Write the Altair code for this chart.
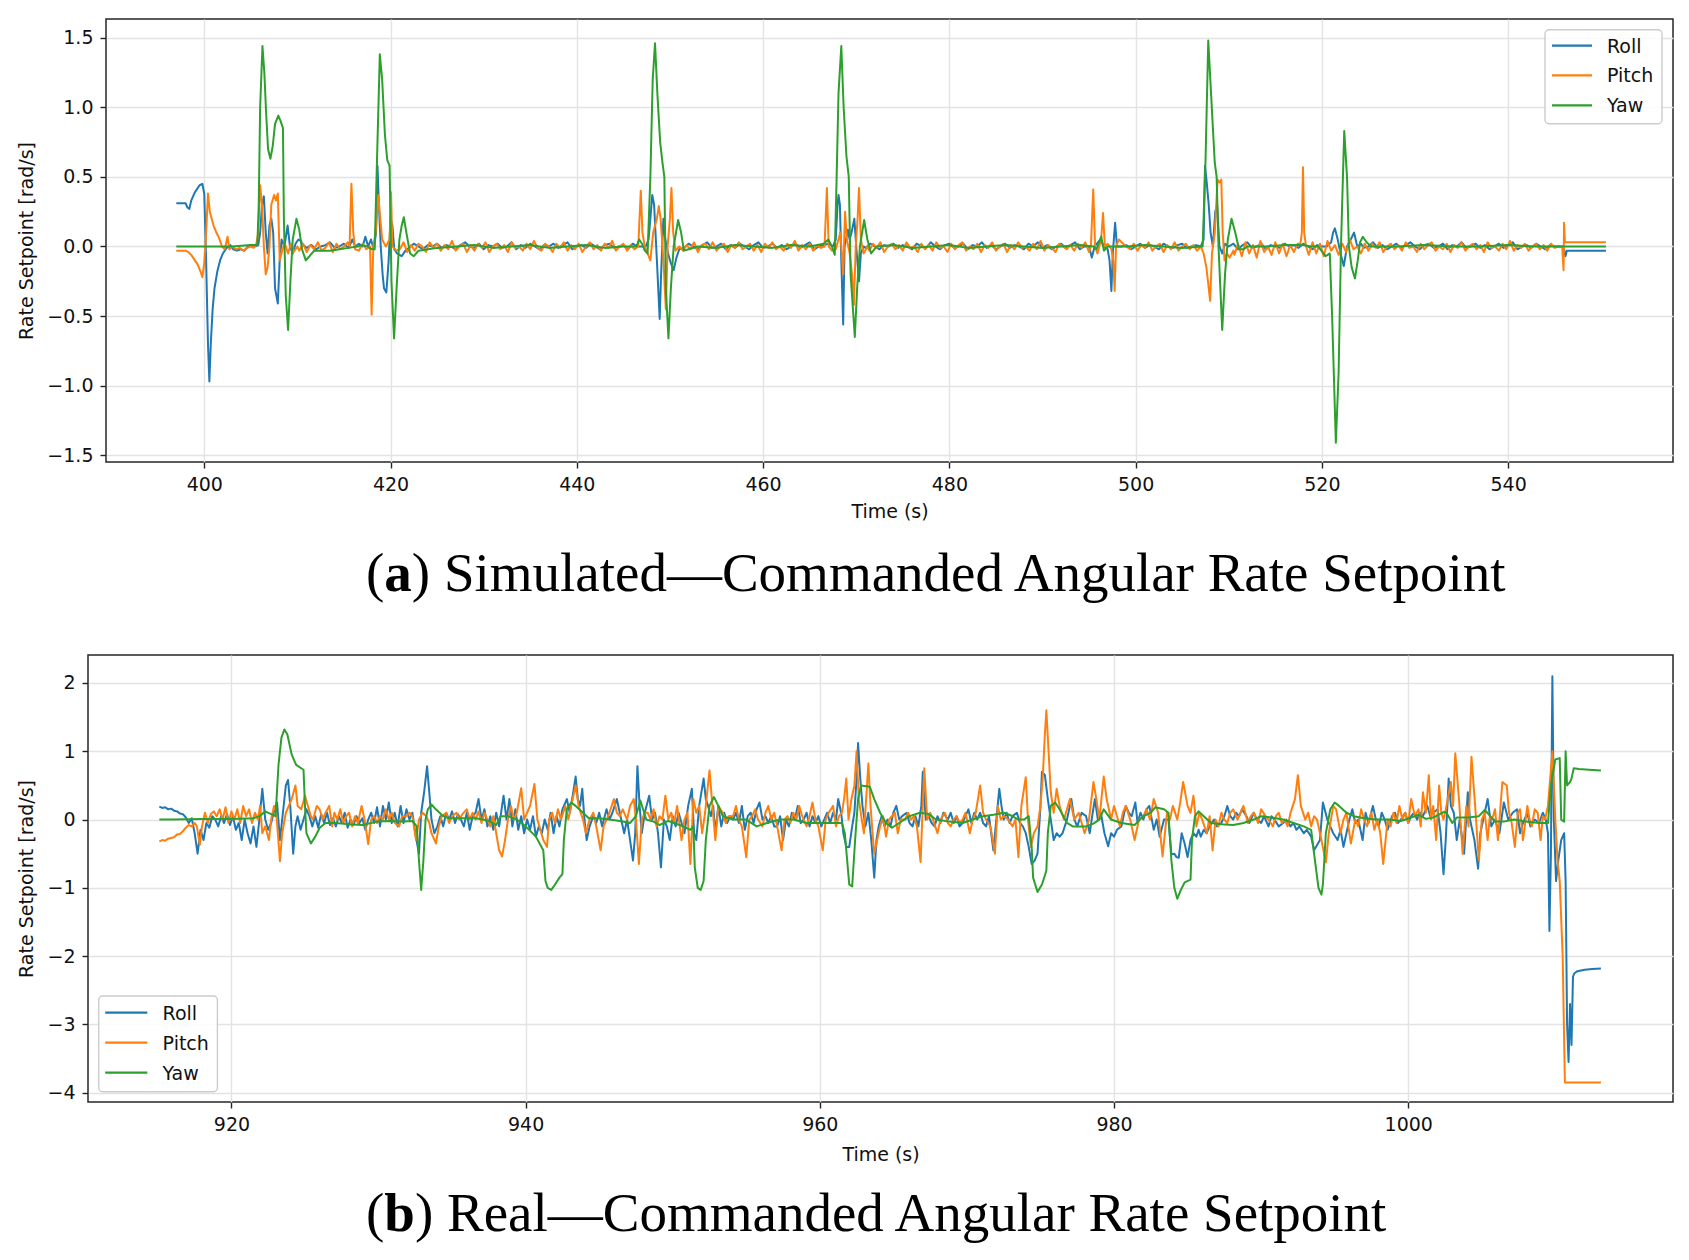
import altair as alt
import pandas as pd

SERIES = ["Roll", "Pitch", "Yaw"]
COLORS = ["#1f77b4", "#ff7f0e", "#2ca02c"]

X_TICKS_A = [400, 420, 440, 460, 480, 500, 520, 540]
Y_TICKS_A = [-1.5, -1.0, -0.5, 0.0, 0.5, 1.0, 1.5]
X_TICKS_B = [920, 940, 960, 980, 1000]
Y_TICKS_B = [-4, -3, -2, -1, 0, 1, 2]

CAPTION_A = ("a", ") Simulated\u2014Commanded Angular Rate Setpoint")
CAPTION_B = ("b", ") Real\u2014Commanded Angular Rate Setpoint")

# ---------------- Panel (a): simulated ----------------
ROLL_A_T0, ROLL_A_DT = 397.0, 0.5
roll_a_base = [
    0.0, 0.0, 0.0, 0.0, 0.0, 0.0, 0.0, 0.0, 0.0, 0.0, 0.0, 0.0, 0.0, 0.0, 0.0, 0.0, 0.0, 0.0, 0.0, 0.0,
    0.0, 0.0, 0.0, 0.0, 0.0, 0.0, 0.0, 0.02, -0.01, 0.01, -0.02, 0.0, 0.01, 0.03, -0.01, 0.0, 0.02, -0.01, 0.01, -0.02,
    0.0, 0.0, 0.0, 0.0, 0.0, 0.0, 0.0, 0.0, 0.0, 0.0, -0.01, 0.02, 0.0, -0.02, 0.01, 0.0, 0.02, -0.01, 0.01, 0.0,
    -0.02, 0.01, 0.03, 0.0, -0.01, 0.02, -0.02, 0.01, 0.0, 0.02, -0.01, 0.0, 0.03, -0.02, 0.01, -0.01, 0.02, 0.0, -0.02, 0.01,
    0.0, 0.02, -0.01, 0.01, 0.03, -0.02, 0.0, 0.01, -0.01, 0.02, 0.0, -0.02, 0.01, 0.02, -0.01, 0.0, 0.01, -0.02, 0.02, 0.0,
    0.0, 0.0, 0.0, 0.0, 0.0, 0.0, 0.0, 0.0, 0.01, -0.01, 0.02, 0.0, -0.02, 0.01, 0.03, -0.01, 0.0, 0.02, -0.02, 0.01,
    -0.01, 0.02, 0.0, -0.02, 0.01, 0.03, -0.01, 0.0, 0.02, -0.01, 0.01, -0.02, 0.0, 0.02, -0.01, 0.01, 0.03, -0.02, 0.0, 0.01,
    0.02, 0.0, 0.0, 0.0, 0.0, 0.0, 0.0, 0.0, -0.01, 0.02, 0.0, -0.02, 0.01, 0.0, 0.02, -0.01, 0.01, 0.0, -0.02, 0.02,
    0.0, -0.01, 0.03, 0.0, -0.02, 0.01, 0.02, -0.01, 0.0, 0.02, -0.02, 0.01, 0.0, 0.03, -0.01, 0.01, -0.02, 0.0, 0.02, -0.01,
    0.01, 0.0, -0.02, 0.02, 0.0, 0.03, -0.01, 0.01, -0.02, 0.0, 0.02, -0.01, 0.01, 0.03, -0.02, 0.0, 0.0, 0.0, 0.0, 0.0,
    0.0, 0.0, 0.0, 0.0, 0.01, -0.02, 0.0, 0.02, -0.01, 0.01, 0.0, -0.02, 0.02, 0.0, -0.01, 0.01, 0.02, -0.01, 0.0, 0.01,
    0.0, 0.0, 0.0, 0.0, 0.0, 0.0, 0.0, 0.02, -0.02, 0.01, 0.03, -0.01, 0.0, 0.02, -0.02, 0.01, 0.0, -0.01, 0.02, 0.0,
    0.01, -0.01, 0.02, 0.0, -0.02, 0.01, 0.0, 0.0, 0.0, 0.0, 0.0, 0.0, 0.0, 0.0, 0.02, -0.01, 0.0, 0.03, -0.01, 0.01,
    -0.02, 0.0, 0.02, -0.01, 0.01, 0.03, 0.0, -0.02, 0.01, 0.02, -0.01, 0.0, 0.02, -0.02, 0.01, 0.0, 0.03, -0.01, 0.0, 0.02,
    -0.01, 0.01, -0.02, 0.0, 0.02, -0.01, 0.01, 0.03, -0.02, 0.0, 0.01, -0.01, 0.02, 0.0, -0.02, 0.01, 0.0, 0.0, 0.0, 0.0,
]
roll_a_events = [
    [[397.0, 0.31], [397.5, 0.31], [398.0, 0.31], [398.2, 0.28], [398.4, 0.27], [398.6, 0.33], [398.8, 0.36],
     [399.0, 0.39], [399.2, 0.41], [399.5, 0.44], [399.8, 0.45], [400.0, 0.38], [400.2, -0.1], [400.4, -0.7],
     [400.55, -0.97], [400.7, -0.7], [400.9, -0.45], [401.1, -0.3], [401.4, -0.18], [401.7, -0.1], [402.0, -0.05],
     [402.4, -0.01], [402.8, 0.01], [403.1, -0.02], [403.5, -0.03], [403.9, -0.02], [404.3, -0.03], [404.7, 0.0],
     [405.0, 0.01], [405.4, 0.0], [405.8, 0.01]],
    [[406.0, 0.1], [406.2, 0.3], [406.4, 0.36], [406.6, 0.1], [406.8, -0.05], [407.0, 0.15], [407.2, 0.2],
     [407.4, 0.1], [407.6, -0.3], [407.9, -0.41], [408.1, -0.1], [408.3, 0.05], [408.6, 0.0], [408.95, 0.15],
     [409.2, 0.0], [409.5, -0.05], [409.8, 0.02], [410.1, 0.05], [410.4, 0.04]],
    [[415.9, 0.05], [416.2, 0.0], [416.6, 0.02], [417.0, 0.0], [417.3, 0.07], [417.6, 0.0], [417.9, 0.05],
     [418.2, -0.02], [418.45, 0.1], [418.6, 0.58], [418.75, 0.3], [418.95, 0.0], [419.15, -0.2], [419.3, -0.3],
     [419.55, -0.33], [419.8, -0.1], [420.0, 0.2], [420.2, 0.15], [420.4, -0.02], [420.7, -0.05], [421.2, -0.07],
     [421.6, -0.03]],
    [[447.4, 0.0], [447.7, 0.05], [447.9, 0.2], [448.1, 0.37], [448.3, 0.3], [448.6, -0.1], [448.9, -0.52],
     [449.05, -0.2], [449.3, 0.2], [449.5, 0.05], [449.8, -0.05], [450.1, -0.12], [450.4, -0.17], [450.7, -0.08],
     [451.0, -0.02]],
    [[467.8, 0.05], [468.0, 0.3], [468.1, 0.37], [468.25, 0.3], [468.4, -0.1], [468.6, -0.56], [468.75, 0.0],
     [468.9, 0.05], [469.1, 0.12], [469.3, 0.05], [469.5, 0.1], [469.8, 0.2], [470.0, 0.0], [470.3, -0.25],
     [470.5, -0.05], [470.8, 0.0]],
    [[495.0, 0.0], [495.3, -0.08], [495.6, 0.0], [496.2, 0.05], [496.6, 0.0], [497.0, -0.02], [497.2, -0.1],
     [497.4, -0.32], [497.55, -0.05], [497.8, 0.17], [498.0, 0.0]],
    [[507.0, 0.0], [507.3, 0.05], [507.45, 0.58], [507.65, 0.45], [507.85, 0.3], [508.05, 0.1], [508.3, 0.0],
     [508.55, 0.25], [508.75, 0.3], [509.0, 0.0], [509.3, -0.05], [509.6, 0.02], [510.0, 0.0]],
    [[520.5, 0.0], [521.0, 0.03], [521.2, 0.1], [521.4, 0.13], [521.7, 0.05], [522.0, -0.05], [522.35, -0.14],
     [522.7, 0.0], [523.1, 0.05], [523.45, 0.1], [523.8, 0.0], [524.2, 0.02]],
    [[545.8, 0.0], [546.0, -0.02], [546.15, -0.07], [546.3, -0.03], [547.0, -0.03], [548.5, -0.03], [550.5, -0.03]],
]

PITCH_A_T0, PITCH_A_DT = 397.0, 0.4
pitch_a_base = [
    0.0, 0.0, 0.0, 0.0, 0.0, 0.0, 0.0, 0.0, 0.0, 0.0, 0.0, 0.0, 0.0, 0.0, 0.0, 0.0, 0.0, 0.0, 0.0, 0.0,
    0.0, 0.0, 0.0, 0.0, 0.0, 0.0, 0.0, 0.0, 0.0, 0.0, 0.0, 0.0, 0.0, -0.03, 0.02, -0.04, 0.01, -0.02, 0.03, -0.03,
    -0.01, 0.03, -0.04, 0.02, -0.02, 0.0, 0.03, 0.0, 0.0, -0.03, 0.02, -0.02, 0.0, 0.0, 0.0, 0.0, 0.0, 0.0, 0.0, -0.03,
    -0.02, 0.03, -0.04, 0.01, -0.03, 0.02, 0.0, -0.04, 0.03, -0.01, 0.02, -0.03, 0.01, -0.02, 0.04, -0.03, 0.0, 0.02, -0.04, 0.01,
    -0.03, 0.02, -0.01, 0.03, -0.04, 0.0, 0.02, -0.02, 0.01, -0.04, 0.03, -0.01, 0.0, -0.03, 0.02, -0.02, 0.04, -0.01, -0.03, 0.02,
    0.0, -0.04, 0.02, -0.01, 0.03, -0.03, 0.01, -0.02, 0.02, -0.04, 0.0, 0.03, -0.02, 0.01, -0.03, 0.02, -0.01, 0.04, -0.03, 0.0,
    0.02, -0.03, 0.01, -0.02, 0.0, 0.0, 0.0, 0.0, 0.0, 0.0, 0.0, 0.0, 0.0, 0.0, 0.0, 0.02, -0.03, 0.01, -0.02, 0.03,
    -0.04, 0.01, 0.02, -0.02, 0.03, -0.03, 0.0, 0.02, -0.04, 0.01, -0.01, 0.03, -0.02, 0.0, 0.02, -0.03, 0.01, -0.04, 0.02, -0.01,
    0.03, -0.02, 0.0, -0.03, 0.02, -0.01, 0.04, -0.03, 0.01, -0.02, 0.02, -0.03, 0.01, -0.01, 0.0, 0.0, 0.0, 0.0, 0.0, 0.0,
    0.0, 0.0, 0.0, 0.0, 0.0, 0.0, -0.03, 0.02, -0.01, 0.03, -0.04, 0.0, 0.02, -0.02, 0.01, -0.03, 0.03, -0.01, 0.0, -0.04,
    0.02, -0.02, 0.01, -0.03, 0.03, -0.01, 0.0, -0.04, 0.02, -0.02, 0.01, 0.03, -0.03, 0.0, -0.02, 0.02, -0.04, 0.01, -0.01, 0.03,
    -0.03, 0.0, 0.02, -0.04, 0.01, -0.02, 0.03, -0.01, 0.0, -0.03, 0.02, -0.02, 0.04, -0.03, 0.01, -0.01, -0.04, 0.02, 0.0, -0.02,
    0.01, -0.03, 0.02, -0.01, 0.03, -0.04, 0.0, 0.0, 0.0, 0.0, 0.0, 0.0, 0.0, 0.0, 0.0, 0.0, -0.02, 0.02, -0.03, 0.01,
    -0.01, 0.03, -0.03, 0.0, 0.02, -0.04, 0.01, -0.02, 0.03, -0.03, 0.0, 0.02, -0.02, 0.01, -0.03, 0.0, 0.0, 0.0, 0.0, 0.0,
    0.0, 0.0, 0.0, 0.0, -0.06, 0.02, -0.07, 0.03, -0.05, 0.01, -0.08, 0.04, -0.04, 0.0, -0.06, 0.03, -0.05, 0.02, -0.07, 0.01,
    -0.04, 0.02, 0.0, 0.0, -0.06, 0.03, -0.05, 0.02, -0.07, 0.04, -0.03, 0.01, -0.06, 0.02, -0.04, 0.05, -0.02, 0.0, -0.05, 0.02,
    -0.03, 0.02, -0.01, 0.03, -0.04, 0.0, 0.02, -0.02, 0.01, -0.03, 0.03, -0.01, 0.0, -0.04, 0.02, -0.02, 0.01, 0.03, -0.03, 0.0,
    -0.02, 0.02, -0.04, 0.01, -0.01, 0.03, -0.03, 0.0, 0.02, -0.02, 0.01, -0.04, 0.03, -0.01, 0.0, -0.03, 0.02, -0.02, 0.04, -0.03,
    0.01, -0.01, 0.02, -0.03, 0.0, 0.02, -0.02, 0.01, -0.03, 0.02, -0.01, 0.0, 0.0, 0.0, 0.0, 0.0, 0.0, 0.0, 0.0, 0.0,
]
pitch_a_events = [
    [[397.0, -0.03], [397.5, -0.03], [398.0, -0.03], [398.3, -0.04], [398.6, -0.06], [399.0, -0.1], [399.3, -0.13],
     [399.6, -0.18], [399.8, -0.22], [400.0, -0.12], [400.2, 0.1], [400.4, 0.38], [400.6, 0.25], [400.8, 0.2],
     [401.0, 0.15], [401.3, 0.1], [401.6, 0.06], [401.9, 0.0], [402.2, -0.02], [402.5, 0.07], [402.7, -0.02],
     [403.0, 0.0], [403.4, -0.02], [403.8, -0.01], [404.2, -0.03], [404.6, -0.01], [405.0, 0.0], [405.3, -0.01],
     [405.6, 0.02]],
    [[405.8, 0.1], [406.0, 0.44], [406.2, 0.3], [406.4, 0.0], [406.6, -0.2], [406.8, -0.15], [407.0, 0.0],
     [407.2, 0.3], [407.5, 0.37], [407.7, 0.33], [407.9, 0.38], [408.1, -0.1], [408.3, -0.05], [408.6, 0.03],
     [409.0, -0.05], [409.3, 0.02], [409.6, -0.04], [410.0, 0.0]],
    [[415.6, 0.0], [415.8, 0.45], [416.0, 0.1], [416.2, -0.02]],
    [[417.8, 0.0], [417.97, -0.49], [418.15, 0.0], [418.4, 0.1], [418.68, 0.37], [418.9, 0.2], [419.1, 0.05],
     [419.5, 0.0], [419.9, 0.05], [420.05, 0.39], [420.2, 0.0], [420.5, -0.02]],
    [[446.6, 0.0], [446.87, 0.4], [447.05, 0.1], [447.3, 0.0], [447.6, -0.05], [447.9, -0.1], [448.2, 0.1],
     [448.6, 0.2], [448.8, 0.29], [449.0, 0.2], [449.3, -0.1], [449.56, -0.45], [449.75, 0.0], [450.0, 0.2],
     [450.16, 0.42], [450.35, 0.1], [450.6, -0.03], [451.0, 0.0]],
    [[466.6, 0.0], [466.85, 0.42], [467.05, 0.0], [467.4, -0.03], [467.8, -0.02], [468.1, 0.05], [468.3, 0.1],
     [468.6, -0.2], [468.8, 0.25], [469.0, 0.05], [469.3, -0.05], [469.55, -0.2], [469.75, -0.42], [469.95, 0.0],
     [470.15, 0.2], [470.3, 0.42], [470.5, 0.05], [470.8, -0.05], [471.2, 0.0]],
    [[495.2, 0.0], [495.45, 0.41], [495.65, 0.0], [495.9, -0.05], [496.3, 0.05], [496.5, 0.24], [496.7, 0.0],
     [497.0, 0.02], [497.4, -0.02], [497.6, -0.1], [497.75, -0.32], [497.9, 0.0], [498.2, 0.05], [498.5, 0.03],
     [499.0, 0.0]],
    [[507.0, 0.0], [507.3, -0.05], [507.6, -0.15], [507.85, -0.3], [508.0, -0.39], [508.2, -0.05], [508.5, 0.1],
     [508.8, 0.48], [509.0, 0.46], [509.2, 0.48], [509.35, 0.1], [509.55, -0.1], [509.8, -0.05], [510.1, -0.08],
     [510.5, -0.03]],
    [[517.7, 0.02], [517.85, 0.1], [517.97, 0.57], [518.1, 0.1], [518.3, 0.0]],
    [[545.8, 0.0], [545.95, -0.17], [546.0, 0.17], [546.1, 0.03], [547.0, 0.03], [548.5, 0.03], [550.5, 0.03]],
]

yaw_a = [
    [397.0, 0.0], [400.0, 0.0], [403.0, 0.0], [405.0, 0.01], [405.7, 0.01], [405.85, 0.3], [406.0, 1.0],
    [406.25, 1.44], [406.45, 1.25], [406.65, 0.95], [406.85, 0.7], [407.1, 0.63], [407.35, 0.72], [407.6, 0.88],
    [407.95, 0.94], [408.2, 0.9], [408.45, 0.85], [408.55, 0.2], [408.75, -0.35], [409.0, -0.6], [409.25, -0.25],
    [409.5, 0.05], [409.9, 0.2], [410.2, 0.12], [410.5, -0.02], [410.9, -0.1], [411.3, -0.07], [411.8, -0.03],
    [412.5, -0.03], [413.5, -0.03], [414.5, -0.02], [415.5, -0.01], [416.5, 0.0], [417.0, 0.01], [417.5, 0.0],
    [418.0, -0.02], [418.3, -0.02], [418.5, 0.5], [418.85, 1.38], [419.1, 1.2], [419.4, 0.8], [419.65, 0.62],
    [419.9, 0.58], [420.1, -0.25], [420.38, -0.66], [420.65, -0.3], [420.95, 0.05], [421.2, 0.15], [421.43, 0.21],
    [421.7, 0.1], [422.1, -0.05], [422.5, -0.07], [423.0, -0.03], [424.0, -0.02], [425.0, -0.01], [427.0, 0.0],
    [429.0, 0.01], [431.0, -0.01], [433.0, 0.0], [435.0, 0.01], [437.0, -0.01], [439.0, 0.0], [441.0, 0.01],
    [443.0, -0.01], [445.0, 0.0], [446.4, 0.0], [446.7, 0.05], [447.0, 0.02], [447.3, -0.03], [447.6, -0.05],
    [447.9, 0.5], [448.15, 1.2], [448.4, 1.46], [448.65, 1.1], [448.95, 0.75], [449.2, 0.6], [449.4, 0.5],
    [449.56, -0.3], [449.84, -0.66], [450.1, -0.3], [450.4, 0.0], [450.88, 0.19], [451.2, 0.1], [451.5, -0.03],
    [452.0, -0.02], [453.0, 0.0], [455.0, -0.01], [457.0, 0.01], [459.0, 0.0], [461.0, -0.01], [463.0, 0.01],
    [465.0, 0.0], [466.5, 0.02], [467.0, 0.05], [467.4, 0.0], [467.7, -0.06], [467.9, 0.5], [468.1, 1.1],
    [468.4, 1.44], [468.65, 1.0], [468.95, 0.65], [469.2, 0.5], [469.4, -0.2], [469.85, -0.65], [470.1, -0.3],
    [470.4, 0.0], [470.85, 0.19], [471.2, 0.05], [471.6, -0.05], [472.2, 0.0], [474.0, 0.01], [476.0, -0.01],
    [478.0, 0.0], [480.0, 0.01], [482.0, -0.01], [484.0, 0.0], [486.0, 0.01], [488.0, 0.0], [490.0, -0.01],
    [492.0, 0.0], [494.0, 0.01], [495.5, 0.0], [495.8, -0.02], [496.3, 0.07], [496.6, -0.03], [497.0, 0.0],
    [499.0, 0.0], [501.0, 0.01], [503.0, 0.0], [505.0, -0.01], [507.2, 0.0], [507.5, 0.6], [507.8, 1.48],
    [508.1, 1.1], [508.5, 0.6], [508.7, 0.5], [508.9, 0.0], [509.3, -0.6], [509.6, -0.2], [509.9, 0.05],
    [510.3, 0.2], [510.7, 0.1], [511.1, -0.02], [511.6, -0.02], [512.0, 0.0], [514.0, 0.0], [516.0, 0.01],
    [518.0, 0.01], [518.8, 0.0], [519.6, 0.0], [520.4, -0.07], [520.85, -0.05], [521.1, -0.5], [521.5, -1.41],
    [521.8, -0.9], [522.05, 0.0], [522.4, 0.83], [522.7, 0.5], [522.9, 0.0], [523.2, -0.15], [523.55, -0.23],
    [523.85, -0.1], [524.1, 0.03], [524.4, 0.07], [524.8, 0.03], [525.3, 0.0], [528.0, 0.0], [531.0, 0.01],
    [534.0, 0.0], [537.0, 0.0], [540.0, 0.01], [543.0, 0.0], [546.0, 0.0], [550.5, 0.0],
]

# ---------------- Panel (b): real flight ----------------
roll_b = [
    [915.1, 0.19], [915.3, 0.17], [915.5, 0.18], [915.7, 0.15], [915.9, 0.16], [916.1, 0.13], [916.3, 0.12],
    [916.5, 0.09], [916.7, 0.08], [916.9, 0.03], [917.1, -0.05], [917.3, 0.02], [917.5, -0.2], [917.7, -0.5],
    [917.9, -0.15], [918.1, -0.3], [918.3, -0.05], [918.5, -0.12], [918.7, 0.05], [918.9, 0.0], [919.1, -0.1],
    [919.3, 0.05], [919.5, -0.05], [919.7, 0.08], [919.9, -0.08], [920.1, 0.05], [920.3, -0.15], [920.5, -0.05],
    [920.7, -0.3], [920.9, 0.0], [921.1, -0.2], [921.3, -0.35], [921.5, -0.1], [921.7, -0.4], [921.9, 0.0],
    [922.1, 0.45], [922.3, 0.0], [922.5, -0.15], [922.7, -0.05], [922.9, 0.12], [923.1, 0.25], [923.3, -0.3],
    [923.5, 0.1], [923.7, 0.5], [923.85, 0.58], [924.0, 0.2], [924.2, -0.5], [924.35, -0.1], [924.5, 0.05],
    [924.7, -0.15], [924.9, 0.0], [925.1, 0.15], [925.3, 0.05], [925.5, -0.1], [925.7, 0.05], [925.9, -0.12],
    [926.1, 0.08], [926.3, -0.05], [926.5, 0.1], [926.7, -0.08], [926.9, 0.02], [927.1, -0.1], [927.3, 0.05],
    [927.5, -0.05], [927.7, 0.1], [927.9, -0.12], [928.1, 0.0], [928.3, -0.08], [928.5, 0.05], [928.7, -0.05],
    [928.9, 0.02], [929.1, -0.15], [929.3, 0.0], [929.5, 0.1], [929.7, -0.05], [929.9, 0.18], [930.1, -0.1],
    [930.3, 0.2], [930.5, 0.0], [930.7, 0.25], [930.9, -0.05], [931.1, 0.1], [931.3, -0.1], [931.5, 0.2],
    [931.7, -0.05], [931.9, 0.15], [932.1, 0.0], [932.3, 0.1], [932.5, -0.2], [932.75, -0.5], [932.9, 0.1],
    [933.1, 0.4], [933.3, 0.78], [933.45, 0.4], [933.6, 0.0], [933.8, -0.2], [934.0, -0.1], [934.2, 0.05],
    [934.4, -0.1], [934.6, 0.1], [934.8, 0.0], [935.0, 0.12], [935.2, -0.05], [935.4, 0.08], [935.6, 0.0],
    [935.8, -0.1], [936.0, 0.1], [936.2, -0.15], [936.4, 0.05], [936.6, 0.1], [936.8, 0.3], [937.0, 0.0],
    [937.2, 0.15], [937.4, -0.1], [937.6, 0.05], [937.8, -0.15], [938.0, 0.1], [938.2, -0.1], [938.5, 0.35],
    [938.7, 0.0], [938.9, 0.3], [939.1, -0.1], [939.3, 0.15], [939.5, -0.15], [939.7, 0.05], [939.9, -0.2],
    [940.1, 0.0], [940.3, -0.15], [940.5, 0.05], [940.7, -0.25], [940.9, -0.1], [941.1, -0.2], [941.3, 0.0],
    [941.5, -0.15], [941.7, 0.1], [941.9, -0.2], [942.1, 0.05], [942.3, -0.1], [942.5, 0.15], [942.8, 0.3],
    [943.0, 0.1], [943.2, 0.35], [943.4, 0.63], [943.55, 0.3], [943.7, 0.2], [943.85, 0.45], [944.0, 0.0],
    [944.15, -0.3], [944.35, -0.1], [944.6, 0.05], [944.8, -0.05], [945.0, 0.1], [945.2, -0.1], [945.5, 0.15],
    [945.7, 0.0], [945.9, 0.1], [946.2, 0.3], [946.4, 0.1], [946.7, -0.2], [946.9, 0.0], [947.1, -0.3],
    [947.3, -0.6], [947.45, -0.2], [947.6, 0.78], [947.75, 0.2], [947.9, -0.2], [948.1, 0.1], [948.4, 0.35],
    [948.6, 0.0], [948.8, 0.1], [949.0, -0.2], [949.2, -0.7], [949.4, 0.0], [949.6, -0.1], [949.8, -0.3],
    [950.0, 0.05], [950.2, -0.1], [950.4, 0.1], [950.6, -0.05], [950.8, -0.2], [951.05, 0.2], [951.3, 0.45],
    [951.45, -0.2], [951.6, -0.3], [951.8, 0.2], [952.1, 0.6], [952.25, 0.3], [952.4, 0.2], [952.6, 0.05],
    [952.75, 0.2], [952.9, -0.2], [953.1, 0.2], [953.3, -0.1], [953.5, 0.1], [953.7, -0.05], [953.9, 0.05],
    [954.1, 0.0], [954.3, 0.1], [954.5, -0.05], [954.7, 0.2], [954.9, -0.15], [955.1, 0.05], [955.3, 0.1],
    [955.5, -0.05], [955.7, 0.15], [955.9, 0.25], [956.1, 0.0], [956.3, 0.05], [956.5, -0.05], [956.7, 0.05],
    [956.9, -0.1], [957.1, -0.1], [957.3, 0.05], [957.5, -0.3], [957.7, 0.0], [957.9, -0.1], [958.1, 0.1],
    [958.3, 0.0], [958.5, 0.2], [958.7, -0.05], [958.9, 0.0], [959.1, 0.1], [959.3, -0.1], [959.5, 0.05],
    [959.7, -0.05], [959.9, 0.05], [960.1, -0.1], [960.3, 0.0], [960.5, 0.1], [960.7, -0.05], [960.9, 0.1],
    [961.1, 0.0], [961.25, 0.3], [961.45, 0.1], [961.6, -0.2], [961.8, -0.4], [962.0, -0.4], [962.2, -0.1],
    [962.35, 0.1], [962.5, 0.6], [962.6, 1.12], [962.75, 0.6], [962.9, 0.2], [963.1, -0.1], [963.3, 0.1],
    [963.5, -0.3], [963.7, -0.85], [963.85, -0.3], [964.0, -0.1], [964.2, 0.05], [964.4, -0.1], [964.6, 0.0],
    [964.8, -0.1], [965.0, 0.1], [965.2, 0.2], [965.4, 0.0], [965.6, 0.05], [965.9, 0.1], [966.1, -0.05],
    [966.3, -0.1], [966.5, 0.05], [966.7, -0.1], [966.9, 0.2], [967.0, 0.7], [967.2, 0.0], [967.4, 0.05],
    [967.6, -0.05], [967.8, -0.1], [968.0, 0.05], [968.2, -0.05], [968.4, 0.1], [968.7, 0.0], [968.9, 0.1],
    [969.1, -0.05], [969.3, 0.05], [969.5, -0.1], [969.7, -0.05], [969.9, 0.05], [970.1, 0.15], [970.3, -0.05],
    [970.5, 0.1], [970.7, 0.0], [970.9, 0.1], [971.1, -0.05], [971.3, -0.1], [971.5, 0.05], [971.8, -0.45],
    [972.0, 0.0], [972.2, 0.45], [972.35, 0.2], [972.5, 0.0], [972.7, 0.1], [972.9, -0.05], [973.1, 0.05],
    [973.4, 0.1], [973.6, -0.05], [973.8, -0.1], [974.0, -0.2], [974.2, -0.4], [974.4, -0.65], [974.6, -0.6],
    [974.8, -0.5], [975.0, 0.2], [975.1, 0.7], [975.3, 0.65], [975.5, 0.3], [975.7, 0.0], [975.9, -0.3],
    [976.1, -0.2], [976.3, -0.25], [976.5, -0.2], [976.8, 0.0], [977.1, 0.3], [977.3, 0.0], [977.5, -0.1],
    [977.8, 0.1], [978.1, 0.05], [978.35, -0.2], [978.55, 0.1], [978.7, 0.3], [978.9, 0.0], [979.1, 0.1],
    [979.35, -0.2], [979.6, -0.39], [979.8, -0.2], [980.0, -0.25], [980.2, -0.15], [980.5, -0.1], [980.8, 0.2],
    [981.0, 0.1], [981.2, 0.05], [981.45, 0.25], [981.6, -0.05], [981.8, 0.1], [982.0, 0.0], [982.2, 0.15],
    [982.4, 0.2], [982.7, -0.15], [982.9, 0.0], [983.1, -0.25], [983.4, 0.0], [983.7, 0.0], [983.9, -0.51],
    [984.1, -0.5], [984.25, -0.55], [984.4, -0.56], [984.6, -0.2], [984.8, -0.35], [985.0, -0.55], [985.2, -0.3],
    [985.4, -0.2], [985.6, -0.25], [985.75, -0.15], [985.9, -0.25], [986.1, -0.15], [986.3, -0.2], [986.5, -0.1],
    [986.8, 0.0], [987.0, -0.1], [987.3, -0.05], [987.5, 0.05], [987.7, 0.2], [987.9, 0.05], [988.1, 0.0],
    [988.3, 0.1], [988.5, 0.05], [988.7, 0.15], [989.0, 0.05], [989.2, -0.05], [989.5, 0.1], [989.7, 0.0],
    [990.0, -0.05], [990.2, 0.05], [990.5, -0.1], [990.7, 0.05], [990.9, 0.0], [991.2, -0.1], [991.5, -0.05],
    [991.7, 0.0], [992.0, -0.1], [992.2, -0.05], [992.4, -0.15], [992.6, -0.1], [992.9, -0.2], [993.1, -0.15],
    [993.4, -0.25], [993.6, -0.45], [994.0, -0.3], [994.2, 0.25], [994.5, 0.0], [994.7, -0.1], [994.9, -0.2],
    [995.2, -0.3], [995.4, -0.15], [995.6, -0.4], [995.8, -0.2], [996.0, 0.0], [996.2, 0.15], [996.4, -0.05],
    [996.6, 0.0], [996.9, -0.3], [997.1, 0.1], [997.3, -0.05], [997.6, 0.2], [997.8, 0.0], [998.0, -0.1],
    [998.2, 0.1], [998.4, 0.0], [998.6, -0.15], [998.9, 0.05], [999.1, 0.1], [999.3, -0.05], [999.5, 0.0],
    [999.8, 0.1], [1000.0, -0.05], [1000.2, 0.05], [1000.4, 0.1], [1000.6, 0.0], [1000.8, 0.1], [1001.0, 0.05],
    [1001.3, 0.2], [1001.5, 0.05], [1001.7, 0.1], [1002.0, 0.15], [1002.2, -0.2], [1002.4, -0.8], [1002.55, -0.3],
    [1002.75, 0.6], [1002.9, 0.2], [1003.1, 0.1], [1003.3, -0.3], [1003.5, 0.0], [1003.8, -0.5], [1004.05, 0.4],
    [1004.2, 0.0], [1004.5, -0.3], [1004.75, -0.72], [1004.9, -0.2], [1005.2, 0.1], [1005.4, 0.3], [1005.65, -0.1],
    [1005.9, 0.0], [1006.2, -0.2], [1006.5, 0.25], [1006.8, 0.0], [1007.1, 0.1], [1007.4, 0.15], [1007.6, -0.2],
    [1007.8, -0.05], [1008.1, 0.1], [1008.3, -0.1], [1008.6, 0.0], [1008.9, -0.05], [1009.15, 0.1], [1009.35, 0.0],
    [1009.5, -0.2], [1009.6, -1.63], [1009.7, -0.5], [1009.8, 2.1], [1009.9, 0.0], [1010.05, -0.9], [1010.2, -0.6],
    [1010.4, -0.3], [1010.6, -0.2], [1010.7, -0.9], [1010.8, -3.0], [1010.9, -3.55], [1011.0, -2.7], [1011.1, -3.3],
    [1011.2, -2.3], [1011.3, -2.25], [1011.5, -2.22], [1012.0, -2.2], [1012.5, -2.19], [1013.1, -2.18],
]

pitch_b = [
    [915.1, -0.32], [915.3, -0.3], [915.5, -0.31], [915.7, -0.28], [915.9, -0.27], [916.1, -0.26], [916.3, -0.22],
    [916.5, -0.21], [916.7, -0.17], [916.9, -0.12], [917.1, -0.08], [917.3, -0.1], [917.5, -0.05], [917.65, -0.1],
    [917.85, -0.37], [918.0, -0.1], [918.2, 0.1], [918.4, -0.05], [918.6, 0.08], [918.8, 0.12], [919.0, 0.05],
    [919.2, 0.15], [919.4, 0.0], [919.6, 0.18], [919.8, -0.05], [920.0, 0.12], [920.2, 0.0], [920.4, 0.15],
    [920.6, -0.05], [920.8, 0.2], [921.0, 0.05], [921.2, 0.15], [921.4, -0.05], [921.6, 0.1], [921.8, 0.0],
    [921.95, 0.2], [922.1, -0.2], [922.3, -0.1], [922.55, -0.3], [922.7, 0.0], [922.9, 0.2], [923.05, 0.1],
    [923.3, -0.61], [923.45, -0.2], [923.7, 0.1], [923.9, 0.2], [924.1, 0.3], [924.35, 0.5], [924.5, 0.2],
    [924.75, 0.15], [925.0, 0.35], [925.2, 0.2], [925.4, 0.05], [925.55, 0.0], [925.8, 0.2], [926.0, 0.15],
    [926.2, 0.0], [926.4, 0.1], [926.65, 0.2], [926.85, -0.1], [927.0, 0.1], [927.2, 0.0], [927.4, 0.15],
    [927.6, -0.05], [927.8, 0.05], [928.0, 0.1], [928.2, -0.1], [928.4, 0.05], [928.6, -0.05], [928.85, 0.2],
    [929.05, 0.0], [929.3, -0.36], [929.5, 0.0], [929.7, 0.05], [929.9, -0.05], [930.1, 0.05], [930.3, 0.0],
    [930.5, 0.15], [930.7, 0.0], [930.9, 0.1], [931.1, -0.05], [931.4, -0.1], [931.6, 0.05], [931.9, 0.05],
    [932.1, 0.1], [932.3, 0.05], [932.55, -0.3], [932.75, 0.0], [933.0, 0.1], [933.25, 0.05], [933.45, -0.05],
    [933.6, -0.2], [933.9, -0.35], [934.1, -0.1], [934.3, 0.05], [934.6, 0.1], [934.8, -0.05], [935.0, 0.05],
    [935.3, 0.1], [935.5, 0.0], [935.7, 0.08], [936.0, 0.15], [936.2, 0.0], [936.4, 0.1], [936.6, 0.0],
    [936.8, 0.12], [937.0, -0.05], [937.2, 0.1], [937.4, 0.0], [937.6, -0.1], [937.8, 0.05], [938.0, -0.2],
    [938.2, -0.45], [938.4, -0.54], [938.6, -0.3], [938.8, 0.0], [939.0, 0.2], [939.2, 0.0], [939.4, 0.1],
    [939.7, 0.46], [939.9, 0.0], [940.1, 0.1], [940.3, 0.2], [940.6, 0.52], [940.8, 0.0], [941.0, -0.15],
    [941.2, -0.3], [941.45, -0.4], [941.6, 0.0], [941.8, 0.1], [942.0, -0.05], [942.2, 0.15], [942.4, 0.0],
    [942.7, 0.2], [942.9, 0.0], [943.1, 0.2], [943.4, 0.5], [943.6, 0.2], [943.9, 0.0], [944.1, -0.2],
    [944.35, 0.0], [944.6, 0.1], [944.8, -0.1], [945.1, -0.45], [945.3, -0.1], [945.5, 0.0], [945.7, 0.1],
    [946.0, 0.3], [946.2, 0.1], [946.4, 0.05], [946.6, 0.15], [946.9, 0.0], [947.1, 0.2], [947.35, 0.3],
    [947.5, 0.0], [947.7, -0.65], [947.9, 0.0], [948.1, 0.1], [948.3, 0.1], [948.5, 0.0], [948.7, 0.15],
    [948.9, -0.1], [949.1, 0.05], [949.3, 0.0], [949.5, 0.35], [949.7, 0.0], [949.9, 0.1], [950.1, -0.05],
    [950.3, 0.2], [950.6, -0.3], [950.8, 0.0], [951.0, 0.1], [951.2, -0.65], [951.4, 0.3], [951.6, 0.1],
    [951.8, 0.2], [952.0, -0.2], [952.2, 0.1], [952.5, 0.72], [952.7, 0.2], [952.9, -0.3], [953.1, 0.2],
    [953.4, 0.1], [953.6, -0.05], [953.8, 0.05], [954.1, 0.05], [954.3, 0.2], [954.5, 0.0], [954.7, -0.1],
    [955.0, -0.55], [955.2, 0.0], [955.4, 0.05], [955.6, 0.15], [955.8, 0.0], [956.1, -0.1], [956.3, 0.1],
    [956.5, 0.2], [956.7, 0.0], [956.9, 0.1], [957.1, -0.1], [957.4, -0.45], [957.6, 0.0], [957.8, 0.05],
    [958.0, -0.05], [958.2, 0.1], [958.4, 0.0], [958.6, 0.2], [958.8, 0.05], [959.1, -0.1], [959.3, 0.05],
    [959.5, 0.25], [959.7, 0.0], [959.9, -0.1], [960.2, -0.45], [960.4, 0.0], [960.6, 0.1], [960.9, 0.2],
    [961.1, -0.1], [961.3, 0.05], [961.5, 0.1], [961.65, 0.3], [961.8, 0.6], [961.95, 0.0], [962.15, 0.3],
    [962.35, 0.5], [962.5, 1.0], [962.65, 0.3], [962.85, 0.0], [963.0, -0.2], [963.15, 0.3], [963.3, 0.82],
    [963.45, 0.2], [963.55, -0.1], [963.7, -0.5], [963.9, -0.3], [964.1, -0.1], [964.3, 0.05], [964.5, -0.25],
    [964.7, 0.0], [964.9, 0.05], [965.1, 0.1], [965.3, -0.2], [965.5, 0.0], [965.8, 0.0], [966.0, 0.1],
    [966.2, 0.0], [966.4, 0.05], [966.6, -0.1], [966.85, -0.62], [967.1, 0.75], [967.3, 0.0], [967.5, 0.1],
    [967.7, 0.0], [968.0, -0.2], [968.2, 0.0], [968.5, 0.1], [968.7, -0.05], [968.9, -0.1], [969.1, 0.0],
    [969.3, 0.05], [969.5, -0.05], [969.7, 0.0], [969.9, 0.1], [970.2, -0.2], [970.4, 0.0], [970.6, 0.1],
    [970.9, 0.5], [971.1, 0.1], [971.3, 0.0], [971.6, -0.1], [971.9, -0.5], [972.1, 0.2], [972.3, 0.0],
    [972.5, 0.05], [972.8, 0.0], [973.1, -0.1], [973.3, 0.0], [973.5, -0.55], [973.7, 0.2], [974.0, 0.62],
    [974.15, 0.0], [974.35, -0.4], [974.55, -0.2], [974.8, -0.1], [975.0, 0.2], [975.15, 0.6], [975.3, 1.25],
    [975.4, 1.6], [975.55, 1.0], [975.7, 0.4], [975.9, 0.1], [976.1, 0.45], [976.3, 0.2], [976.6, 0.0],
    [976.8, 0.15], [977.0, 0.3], [977.3, 0.0], [977.6, 0.1], [977.8, -0.05], [978.0, -0.2], [978.3, 0.0],
    [978.6, 0.55], [978.8, 0.3], [979.0, 0.0], [979.3, 0.63], [979.5, 0.3], [979.8, 0.0], [980.0, 0.2],
    [980.2, 0.05], [980.4, -0.1], [980.6, 0.1], [980.8, 0.2], [981.1, 0.0], [981.4, -0.3], [981.7, 0.0],
    [982.0, 0.05], [982.2, 0.15], [982.45, 0.0], [982.7, 0.3], [983.0, 0.1], [983.3, -0.54], [983.6, 0.1],
    [983.8, 0.0], [984.0, 0.2], [984.3, 0.0], [984.5, 0.25], [984.7, 0.55], [985.0, 0.2], [985.2, 0.1],
    [985.4, 0.35], [985.6, -0.1], [985.8, 0.1], [986.0, 0.0], [986.3, -0.2], [986.5, 0.05], [986.7, -0.45],
    [986.9, 0.0], [987.1, -0.1], [987.3, 0.1], [987.5, 0.0], [987.7, -0.05], [987.9, 0.1], [988.1, 0.15],
    [988.4, 0.0], [988.6, 0.1], [988.8, 0.2], [989.1, -0.05], [989.3, 0.05], [989.5, 0.1], [989.8, -0.05],
    [990.0, 0.15], [990.3, 0.05], [990.5, 0.0], [990.8, -0.1], [991.0, 0.05], [991.2, 0.1], [991.4, -0.05],
    [991.6, 0.0], [991.8, -0.1], [992.0, 0.1], [992.3, 0.3], [992.5, 0.65], [992.7, 0.2], [993.0, 0.0],
    [993.2, 0.1], [993.4, -0.1], [993.6, 0.05], [993.8, 0.0], [994.1, -0.3], [994.4, -0.63], [994.6, -0.2],
    [994.9, 0.2], [995.1, 0.15], [995.4, -0.2], [995.6, 0.0], [995.8, 0.1], [996.1, -0.35], [996.4, 0.0],
    [996.6, -0.1], [996.8, 0.15], [997.0, 0.0], [997.2, -0.1], [997.5, 0.1], [997.7, -0.15], [997.9, 0.0],
    [998.1, -0.2], [998.3, -0.65], [998.6, 0.0], [998.8, -0.1], [999.0, 0.1], [999.2, -0.05], [999.4, 0.2],
    [999.6, 0.0], [999.8, 0.1], [1000.0, -0.05], [1000.2, 0.3], [1000.45, 0.05], [1000.7, 0.15], [1000.85, -0.1],
    [1001.0, 0.4], [1001.2, 0.1], [1001.4, 0.65], [1001.55, 0.0], [1001.7, 0.2], [1001.9, -0.3], [1002.1, 0.5],
    [1002.25, 0.1], [1002.4, 0.0], [1002.6, 0.2], [1002.9, 0.55], [1003.05, 0.2], [1003.2, 0.97], [1003.45, 0.3],
    [1003.7, -0.5], [1003.95, 0.2], [1004.1, -0.1], [1004.3, 0.92], [1004.55, 0.2], [1004.8, -0.6], [1005.0, 0.0],
    [1005.2, 0.1], [1005.4, -0.3], [1005.55, 0.05], [1005.7, 0.0], [1005.9, 0.15], [1006.1, -0.3], [1006.4, 0.55],
    [1006.7, 0.5], [1006.85, 0.1], [1007.0, 0.0], [1007.25, -0.4], [1007.45, 0.1], [1007.6, 0.15], [1007.8, -0.3],
    [1008.1, 0.2], [1008.25, 0.0], [1008.4, -0.1], [1008.6, 0.15], [1008.8, 0.1], [1009.0, -0.3], [1009.15, 0.05],
    [1009.3, 0.0], [1009.5, 0.2], [1009.65, 0.6], [1009.8, 1.0], [1010.0, 0.0], [1010.15, -0.6], [1010.3, -0.9],
    [1010.5, -2.0], [1010.65, -3.85], [1011.5, -3.85], [1012.5, -3.85], [1013.1, -3.85],
]

yaw_b = [
    [915.1, 0.0], [916.0, 0.0], [918.0, 0.01], [920.0, 0.01], [921.5, 0.02], [921.9, 0.05], [922.3, 0.12],
    [922.7, 0.08], [923.0, 0.05], [923.2, 0.8], [923.4, 1.2], [923.6, 1.32], [923.8, 1.25], [924.1, 0.95],
    [924.4, 0.8], [924.9, 0.73], [925.0, 0.2], [925.1, -0.2], [925.4, -0.35], [925.7, -0.25], [926.0, -0.12],
    [926.4, -0.05], [927.1, -0.05], [928.0, -0.07], [928.9, -0.08], [929.9, -0.03], [930.8, -0.02], [931.7, -0.03],
    [932.3, -0.02], [932.6, -0.1], [932.75, -0.6], [932.9, -1.03], [933.05, -0.6], [933.2, 0.0], [933.35, 0.15],
    [933.6, 0.22], [933.9, 0.15], [934.4, 0.05], [934.8, 0.02], [935.7, 0.02], [936.6, 0.02], [937.1, 0.0],
    [937.6, -0.03], [938.0, -0.08], [938.3, 0.05], [938.8, 0.05], [939.4, 0.0], [940.0, -0.1], [940.7, -0.25],
    [941.2, -0.45], [941.35, -0.9], [941.5, -1.0], [941.75, -1.03], [942.0, -0.95], [942.3, -0.85], [942.5, -0.8],
    [942.6, -0.3], [942.8, 0.15], [943.1, 0.25], [943.4, 0.2], [943.9, 0.1], [944.3, 0.02], [945.0, 0.02],
    [945.7, 0.0], [946.4, -0.02], [947.1, -0.05], [947.5, 0.05], [947.8, 0.28], [948.2, 0.0], [948.7, -0.03],
    [949.1, -0.08], [949.7, -0.02], [950.1, -0.05], [950.7, -0.1], [951.2, -0.15], [951.4, -0.1], [951.5, -0.7],
    [951.7, -1.0], [951.9, -1.03], [952.1, -0.9], [952.25, -0.3], [952.5, 0.2], [952.8, 0.33], [953.1, 0.2],
    [953.4, 0.05], [954.1, 0.0], [955.0, 0.0], [955.7, -0.1], [956.4, -0.05], [957.3, 0.0], [958.2, 0.0],
    [959.1, -0.05], [960.0, -0.05], [960.9, -0.05], [961.5, -0.05], [961.7, -0.2], [961.9, -0.7], [962.0, -0.95],
    [962.2, -0.98], [962.4, -0.3], [962.6, 0.3], [962.8, 0.5], [963.4, 0.48], [963.7, 0.3], [964.1, 0.1],
    [964.5, -0.05], [964.9, -0.12], [965.4, -0.05], [966.1, 0.05], [966.8, 0.1], [967.4, 0.08], [967.9, 0.0],
    [968.8, -0.03], [969.7, -0.05], [970.4, 0.0], [971.1, 0.05], [971.8, 0.07], [972.5, 0.1], [973.0, 0.06],
    [973.5, 0.0], [973.9, 0.0], [974.2, 0.05], [974.4, -0.4], [974.5, -0.85], [974.8, -1.06], [975.1, -0.95],
    [975.4, -0.75], [975.5, -0.2], [975.7, 0.2], [976.0, 0.25], [976.3, 0.15], [976.8, -0.05], [977.2, -0.1],
    [978.1, -0.1], [978.6, -0.06], [979.0, 0.0], [979.3, 0.15], [979.8, 0.0], [980.5, -0.05], [981.4, -0.08],
    [982.0, 0.05], [982.5, 0.1], [982.8, 0.18], [983.4, 0.15], [983.7, 0.1], [983.9, -0.6], [984.1, -1.0],
    [984.3, -1.16], [984.5, -1.05], [984.8, -0.92], [985.2, -0.88], [985.3, -0.3], [985.5, 0.05], [985.75, 0.12],
    [986.1, 0.05], [986.6, -0.05], [987.3, -0.07], [988.1, -0.08], [988.8, -0.05], [989.5, 0.0], [990.0, 0.05],
    [990.7, 0.03], [991.5, 0.0], [992.2, -0.05], [992.9, -0.1], [993.4, -0.15], [993.6, -0.5], [993.9, -1.0],
    [994.1, -1.1], [994.2, -0.95], [994.4, -0.2], [994.7, 0.15], [995.0, 0.25], [995.3, 0.2], [995.8, 0.1],
    [996.3, 0.05], [997.0, 0.02], [997.8, 0.0], [998.7, 0.0], [999.5, -0.02], [1000.2, 0.03], [1000.7, 0.07],
    [1001.2, 0.01], [1001.7, 0.03], [1002.4, 0.11], [1002.6, 0.1], [1003.0, -0.05], [1003.3, 0.03], [1004.1, 0.03],
    [1004.8, 0.05], [1005.2, 0.14], [1005.5, 0.07], [1005.9, -0.03], [1006.5, -0.03], [1007.2, 0.0], [1008.0, -0.03],
    [1008.9, -0.05], [1009.5, -0.05], [1009.7, 0.5], [1010.0, 0.88], [1010.3, 0.9], [1010.4, 0.0], [1010.6, -0.03],
    [1010.7, 1.0], [1010.8, 0.5], [1011.0, 0.55], [1011.1, 0.6], [1011.25, 0.75], [1011.6, 0.74], [1012.3, 0.73],
    [1013.1, 0.72],
]


def merge(t0, dt, base, events, t_end):
    wins = [(min(p[0] for p in ev), max(p[0] for p in ev)) for ev in events]
    pts = []
    for i, v in enumerate(base):
        t = round(t0 + i * dt, 3)
        if t > t_end or any(a <= t <= b for a, b in wins):
            continue
        pts.append([t, v])
    for ev in events:
        pts.extend(ev)
    pts.sort(key=lambda p: p[0])
    return pts


def frame(pts, name):
    return pd.DataFrame(pts, columns=["t", "v"]).assign(series=name)


roll_a = merge(ROLL_A_T0, ROLL_A_DT, roll_a_base, roll_a_events, 550.5)
pitch_a = merge(PITCH_A_T0, PITCH_A_DT, pitch_a_base, pitch_a_events, 550.5)

FONT = "DejaVu Sans"
FS = 19
SERIF = "Liberation Serif"
CAP_FS = 55
ONE = pd.DataFrame({"k": [0]})


def legend_layers(box, line_x, label_x, rows):
    x1, x2, y1, y2 = box
    out = [
        alt.Chart(ONE).mark_rect(fill="#ffffff", fillOpacity=0.85, stroke="#cccccc",
                                 strokeWidth=1.4, cornerRadius=4).encode(
            x=alt.value(x1), x2=alt.value(x2), y=alt.value(y1), y2=alt.value(y2))
    ]
    for name, col, ry in zip(SERIES, COLORS, rows):
        out.append(alt.Chart(ONE).mark_rule(color=col, strokeWidth=2.2).encode(
            x=alt.value(line_x[0]), x2=alt.value(line_x[1]), y=alt.value(ry)))
        out.append(alt.Chart(ONE).mark_text(text=name, align="left", baseline="middle", font=FONT,
                                            fontSize=FS, color="#111111").encode(
            x=alt.value(label_x), y=alt.value(ry + 1)))
    return out


def panel(dfs, xdom, ydom, xticks, yticks, yfmt, w, h, title_x, title_y_pos,
          leg, cap, cap_x, cap_y, bold_w):
    color = alt.Color("series:N", scale=alt.Scale(domain=SERIES, range=COLORS), legend=None)
    x = alt.X(
        "t:Q",
        scale=alt.Scale(domain=xdom, nice=False, zero=False),
        axis=alt.Axis(
            values=xticks, format="d", title="Time (s)", grid=True, domain=False,
            tickSize=6, tickWidth=1.4, tickColor="#222222", labelPadding=7,
            labelFont=FONT, labelFontSize=FS, labelColor="#111111", labelFlush=False,
            labelOverlap=False, titleFont=FONT, titleFontSize=FS, titleFontWeight="normal",
            titleColor="#111111", titleY=title_y_pos, titleBaseline="middle",
            gridColor="#e3e3e3", gridWidth=1.4,
        ),
    )
    y = alt.Y(
        "v:Q",
        scale=alt.Scale(domain=ydom, nice=False, zero=False),
        axis=alt.Axis(
            values=yticks, format=yfmt, title="Rate Setpoint [rad/s]", grid=True, domain=False,
            tickSize=6, tickWidth=1.4, tickColor="#222222", labelPadding=7,
            labelFont=FONT, labelFontSize=FS, labelColor="#111111", labelFlush=False,
            labelOverlap=False, titleFont=FONT, titleFontSize=FS, titleFontWeight="normal",
            titleColor="#111111", titleX=title_x, titleBaseline="middle",
            gridColor="#e3e3e3", gridWidth=1.4,
        ),
    )
    layers = [
        alt.Chart(df).mark_line(strokeWidth=2.0, strokeJoin="round").encode(x=x, y=y, color=color)
        for df in dfs
    ]
    letter, rest = cap
    c1 = alt.Chart(ONE).mark_text(text="(", align="left", baseline="alphabetic", font=SERIF,
                                  fontSize=CAP_FS, color="#000000").encode(
        x=alt.value(cap_x), y=alt.value(cap_y))
    c2 = alt.Chart(ONE).mark_text(text=letter, align="left", baseline="alphabetic", font=SERIF,
                                  fontSize=CAP_FS, fontWeight="bold", color="#000000").encode(
        x=alt.value(cap_x + 0.333 * CAP_FS), y=alt.value(cap_y))
    c3 = alt.Chart(ONE).mark_text(text=rest, align="left", baseline="alphabetic", font=SERIF,
                                  fontSize=CAP_FS, color="#000000").encode(
        x=alt.value(cap_x + 0.333 * CAP_FS + bold_w * CAP_FS), y=alt.value(cap_y))
    return alt.layer(*layers, *legend_layers(*leg), c1, c2, c3).properties(width=w, height=h)


def spacer():
    return alt.Chart(ONE).mark_point(size=1, opacity=0).encode(
        x=alt.value(0), y=alt.value(0)
    ).properties(width=1, height=1, view=alt.ViewBackground(stroke="transparent"))


panel_a = panel(
    [frame(roll_a, "Roll"), frame(pitch_a, "Pitch"), frame(yaw_a, "Yaw")],
    [389.45, 557.7], [-1.548, 1.634], X_TICKS_A, Y_TICKS_A, ".1f",
    1567, 443, -80, 49,
    ((1439, 1556, 10.7, 104.7), (1446, 1486), 1501, (26.7, 56.3, 86.3)),
    CAPTION_A, 260, 572, 0.5,
)
panel_b = panel(
    [frame(roll_b, "Roll"), frame(pitch_b, "Pitch"), frame(yaw_b, "Yaw")],
    [910.25, 1018.0], [-4.136, 2.41], X_TICKS_B, Y_TICKS_B, "d",
    1585, 447, -62, 52,
    ((10.7, 129.4, 341, 436.7), (17.2, 59.3), 74.6, (357.7, 387.7, 417.7)),
    CAPTION_B, 278, 576, 0.556,
)

chart = alt.vconcat(
    alt.hconcat(spacer(), panel_a, spacing=4),
    alt.hconcat(spacer(), panel_b, spacing=4),
    spacing=50,
).properties(
    padding={"left": 0, "top": 9, "right": 5, "bottom": 5},
    background="white",
).configure_view(stroke="#262626", strokeWidth=1.5)

chart.save("out.html", embed_options={"renderer": "svg", "actions": False})
